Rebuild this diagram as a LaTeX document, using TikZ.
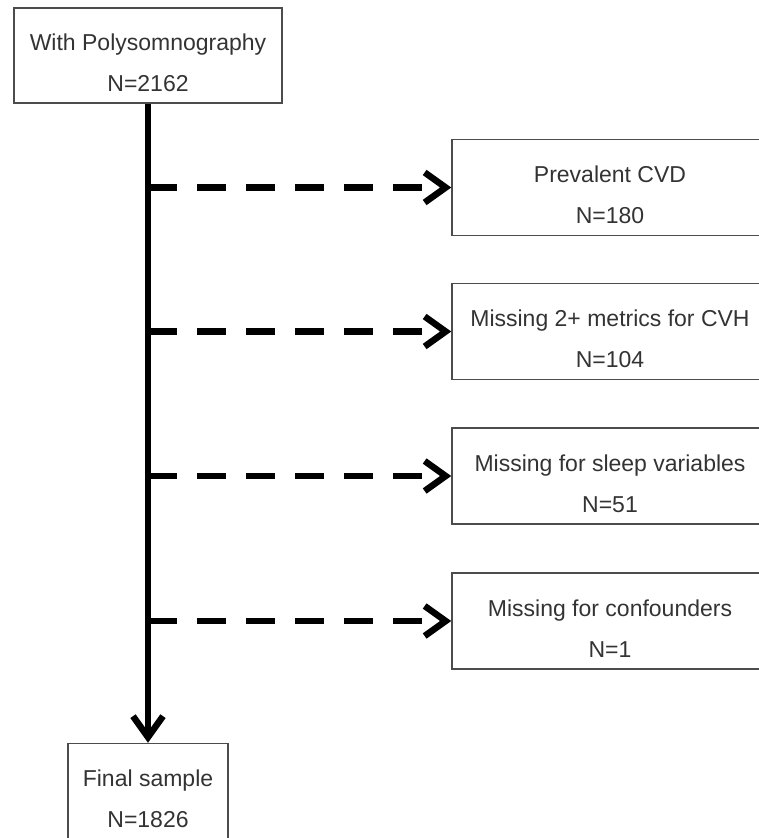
\documentclass[tikz,border=0pt]{standalone}
\usepackage{fontspec}
\setmainfont{Liberation Sans}
\usepackage{tikz}
\usetikzlibrary{arrows.meta}

\begin{document}
\begin{tikzpicture}[
    x=1pt, y=1pt,
    box/.style={draw=black!70, line width=1.5pt, text=black!80, align=center,
        font=\fontsize{23}{41}\selectfont, minimum height=96pt, inner sep=0pt},
    flow/.style={line width=6.5pt, -{Straight Barb[length=21pt, width=30pt]}},
    skip/.style={flow, dash pattern=on 29pt off 20pt}
]
\useasboundingbox (0,0) rectangle (758,-838);
\node[box, minimum width=268pt, minimum height=95pt] (psg) at (148,-55.5)
    {\rule{0pt}{32pt}With Polysomnography\\N=2162};
\node[box, minimum width=160pt] (final) at (148,-791.5)
    {\rule{0pt}{32pt}Final sample\\N=1826};
\foreach \name/\y/\what/\n in {cvd/187.5/Prevalent CVD/180,
    cvh/331.5/Missing 2+ metrics for CVH/104,
    sleep/476/Missing for sleep variables/51,
    conf/621/Missing for confounders/1}
    \node[box, minimum width=316pt] (\name) at (610,-\y) {\rule{0pt}{32pt}\what\\N=\n};
\draw[flow] (psg) -- (final);
\foreach \name in {cvd, cvh, sleep, conf}
    \draw[skip] (\name.west -| psg) -- (\name.west);
\end{tikzpicture}
\end{document}
